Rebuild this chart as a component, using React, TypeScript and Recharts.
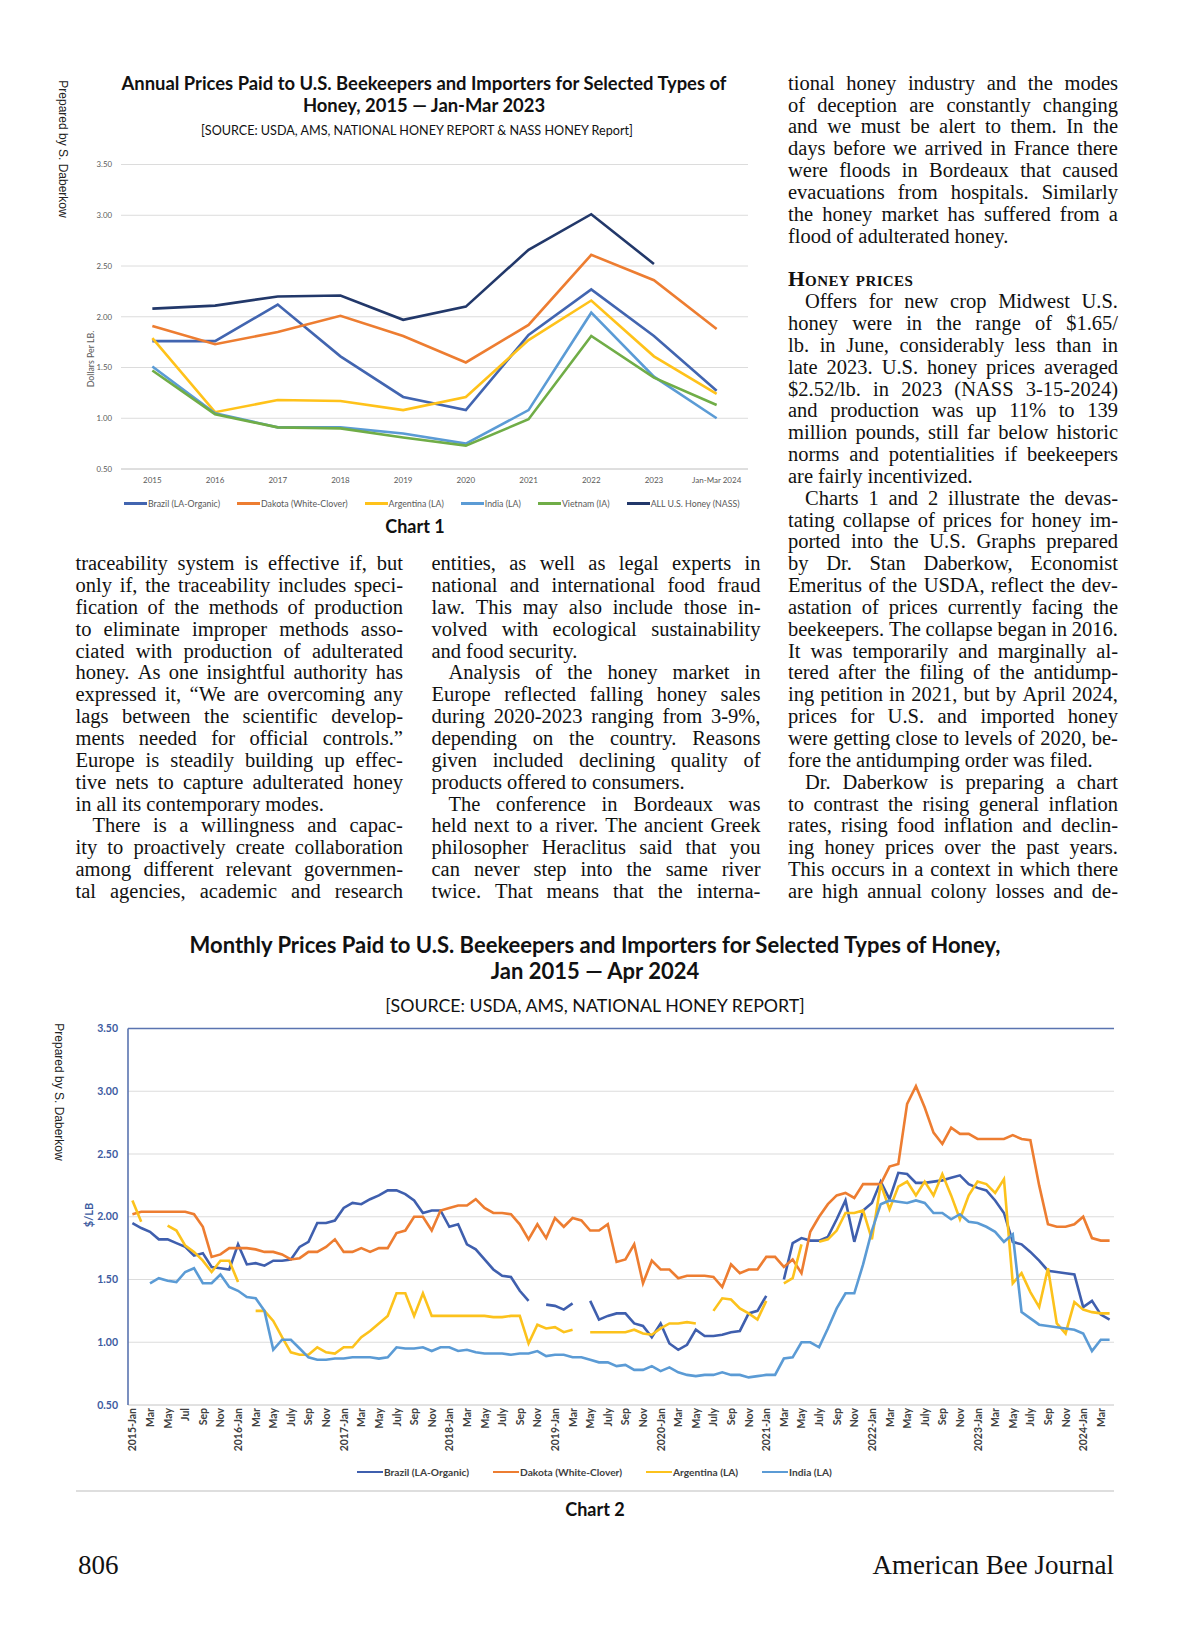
import React from 'react';
import { LineChart, Line, XAxis, YAxis, CartesianGrid, ReferenceLine } from 'recharts';

// ---------- Chart 1 (annual) ----------
const annualYears = ['2015', '2016', '2017', '2018', '2019', '2020', '2021', '2022', '2023', 'Jan-Mar 2024'];
const annualBrazil = [1.76, 1.76, 2.12, 1.61, 1.21, 1.08, 1.82, 2.27, 1.81, 1.27];
const annualDakota = [1.91, 1.73, 1.85, 2.01, 1.81, 1.55, 1.92, 2.61, 2.36, 1.88];
const annualArgentina = [1.79, 1.06, 1.18, 1.17, 1.08, 1.21, 1.77, 2.16, 1.61, 1.24];
const annualIndia = [1.51, 1.05, 0.91, 0.91, 0.85, 0.75, 1.08, 2.04, 1.41, 1.0];
const annualVietnam = [1.47, 1.04, 0.91, 0.9, 0.81, 0.73, 0.99, 1.81, 1.4, 1.13];
const annualAllUS = [2.08, 2.11, 2.2, 2.21, 1.97, 2.1, 2.66, 3.01, 2.52, null];
const annualTicks = [0.5, 1, 1.5, 2, 2.5, 3, 3.5];

// ---------- Chart 2 (monthly, Jan 2015 - Apr 2024) ----------
const monthYears = ['2015', '2016', '2017', '2018', '2019', '2020', '2021', '2022', '2023', '2024'];
const monthNames = ['Jan', 'Feb', 'Mar', 'Apr', 'May', 'Jun', 'Jul', 'Aug', 'Sep', 'Oct', 'Nov', 'Dec'];
const tickNames2015 = ['Jan', 'Mar', 'May', 'Jul', 'Sep', 'Nov'];
const tickNamesLater = ['Jan', 'Mar', 'May', 'July', 'Sep', 'Nov'];
const monthCount = 112;

const brazilM = [
  1.95, 1.91, 1.88, 1.82, 1.82, 1.79, 1.76, 1.69, 1.71, 1.6, 1.59, 1.58,
  1.78, 1.62, 1.63, 1.61, 1.65, 1.65, 1.66, 1.76, 1.8, 1.95, 1.95, 1.97,
  2.07, 2.11, 2.1, 2.14, 2.17, 2.21, 2.21, 2.18, 2.13, 2.03, 2.05, 2.05,
  1.92, 1.94, 1.78, 1.74, 1.66, 1.58, 1.53, 1.52, 1.41, 1.33, null, 1.3,
  1.29, 1.26, 1.31, null, 1.33, 1.18, 1.21, 1.23, 1.23, 1.15, 1.13, 1.04,
  1.15, 0.99, 0.94, 0.98, 1.1, 1.05, 1.05, 1.06, 1.08, 1.09, 1.23, 1.25,
  1.37, null, 1.5, 1.79, 1.83, 1.81, 1.81, 1.84, 1.98, 2.13, 1.8, 2.05,
  2.11, 2.28, 2.14, 2.35, 2.34, 2.27, 2.27, 2.28, 2.29, 2.31, 2.33, 2.26,
  2.23, 2.21, 2.13, 2.03, 1.8, 1.78, 1.72, 1.65, 1.57, 1.56, 1.55, 1.54,
  1.28, 1.33, 1.22, 1.18,
];
const dakotaM = [
  2.02, 2.04, 2.04, 2.04, 2.04, 2.04, 2.04, 2.02, 1.92, 1.68, 1.7, 1.75,
  1.75, 1.75, 1.74, 1.72, 1.72, 1.7, 1.66, 1.67, 1.72, 1.72, 1.76, 1.82,
  1.72, 1.72, 1.75, 1.72, 1.75, 1.75, 1.87, 1.89, 2.0, 2.0, 1.89, 2.05,
  2.07, 2.09, 2.09, 2.14, 2.07, 2.03, 2.03, 2.02, 1.94, 1.82, 1.94, 1.83,
  1.99, 1.92, 1.99, 1.97, 1.89, 1.89, 1.94, 1.64, 1.66, 1.78, 1.47, 1.65,
  1.58, 1.58, 1.51, 1.53, 1.53, 1.53, 1.52, 1.44, 1.62, 1.55, 1.58, 1.58,
  1.68, 1.68, 1.6, 1.66, 1.55, 1.88, 2.0, 2.1, 2.17, 2.19, 2.15, 2.26,
  2.26, 2.26, 2.4, 2.42, 2.9, 3.04, 2.87, 2.67, 2.58, 2.71, 2.66, 2.66,
  2.62, 2.62, 2.62, 2.62, 2.65, 2.62, 2.61, 2.25, 1.94, 1.92, 1.92, 1.94,
  2.0, 1.83, 1.81, 1.81,
];
const argentinaM = [
  2.13, 1.96, null, null, 1.93, 1.89, 1.77, 1.72, 1.65, 1.56, 1.65, 1.65,
  1.48, null, 1.25, 1.25, 1.17, 1.04, 0.92, 0.9, 0.9, 0.96, 0.92, 0.91,
  0.96, 0.96, 1.04, 1.09, 1.15, 1.21, 1.39, 1.39, 1.21, 1.39, 1.21, 1.21,
  1.21, 1.21, 1.21, 1.21, 1.21, 1.2, 1.2, 1.21, 1.21, 0.99, 1.14, 1.11,
  1.12, 1.08, 1.1, null, 1.08, 1.08, 1.08, 1.08, 1.08, 1.1, 1.07, 1.06,
  1.11, 1.15, 1.15, 1.16, 1.15, null, 1.25, 1.35, 1.34, 1.27, 1.23, 1.18,
  1.33, null, 1.47, 1.51, 1.78, null, 1.8, 1.82, 1.89, 2.03, 2.03, 2.05,
  1.82, 2.26, 2.06, 2.24, 2.28, 2.17, 2.28, 2.17, 2.34, 2.17, 1.98, 2.17,
  2.28, 2.26, 2.19, 2.3, 1.47, 1.55, 1.4, 1.28, 1.59, 1.15, 1.07, 1.32,
  1.26, 1.24, 1.23, 1.23,
];
const indiaM = [
  null, null, 1.47, 1.51, 1.49, 1.48, 1.56, 1.59, 1.47, 1.47, 1.54, 1.44,
  1.41, 1.36, 1.35, 1.25, 0.94, 1.02, 1.02, 0.95, 0.88, 0.86, 0.86, 0.87,
  0.87, 0.88, 0.88, 0.88, 0.87, 0.88, 0.96, 0.95, 0.95, 0.96, 0.93, 0.96,
  0.96, 0.93, 0.94, 0.92, 0.91, 0.91, 0.91, 0.9, 0.91, 0.91, 0.93, 0.89,
  0.9, 0.9, 0.88, 0.88, 0.86, 0.84, 0.84, 0.81, 0.82, 0.78, 0.78, 0.81,
  0.77, 0.8, 0.76, 0.74, 0.73, 0.74, 0.74, 0.76, 0.74, 0.74, 0.72, 0.73,
  0.74, 0.74, 0.87, 0.88, 1.0, 1.0, 0.96, 1.11, 1.27, 1.39, 1.39, 1.62,
  1.89, 2.1, 2.13, 2.12, 2.11, 2.13, 2.11, 2.03, 2.03, 1.98, 2.02, 1.96,
  1.95, 1.92, 1.88, 1.8, 1.86, 1.24, 1.19, 1.14, 1.13, 1.12, 1.11, 1.1,
  1.07, 0.93, 1.02, 1.02,
];
const monthlyTicks = [0.5, 1, 1.5, 2, 2.5, 3, 3.5];

// ---------- series styling ----------
const annualSeries = [
  { key: 'brazil', name: 'Brazil (LA-Organic)', color: '#4265b0', values: annualBrazil },
  { key: 'dakota', name: 'Dakota (White-Clover)', color: '#ed7d31', values: annualDakota },
  { key: 'argentina', name: 'Argentina (LA)', color: '#ffc21a', values: annualArgentina },
  { key: 'india', name: 'India (LA)', color: '#5b9bd5', values: annualIndia },
  { key: 'vietnam', name: 'Vietnam (IA)', color: '#70ad47', values: annualVietnam },
  { key: 'allus', name: 'ALL U.S. Honey (NASS)', color: '#22386a', values: annualAllUS },
];
const monthlySeries = [
  { key: 'brazil', name: 'Brazil (LA-Organic)', color: '#3f5fae', values: brazilM },
  { key: 'dakota', name: 'Dakota (White-Clover)', color: '#ed7d31', values: dakotaM },
  { key: 'argentina', name: 'Argentina (LA)', color: '#fcc21c', values: argentinaM },
  { key: 'india', name: 'India (LA)', color: '#5b9bd5', values: indiaM },
];

const annualData = annualYears.map((y, i) => {
  const row: any = { year: y };
  annualSeries.forEach((s) => (row[s.key] = s.values[i]));
  return row;
});

const monthKeys: string[] = [];
monthYears.forEach((y) => monthNames.forEach((m) => monthKeys.push(`${y}-${m}`)));
const monthlyData = monthKeys.slice(0, monthCount).map((k, i) => {
  const row: any = { m: k };
  monthlySeries.forEach((s) => (row[s.key] = s.values[i]));
  return row;
});

function monthTickLabel(key: string): string {
  const [y, m] = key.split('-');
  const idx = monthNames.indexOf(m);
  const names = y === '2015' ? tickNames2015 : tickNamesLater;
  const label = names[Math.floor(idx / 2)];
  return label === 'Jan' ? `${y}-Jan` : label;
}

// ---------- article text ----------
const colLeft = [
  'traceability system is effective if, but',
  'only if, the traceability includes speci-',
  'fication of the methods of production',
  'to eliminate improper methods asso-',
  'ciated with production of adulterated',
  'honey. As one insightful authority has',
  'expressed it, \u201CWe are overcoming any',
  'lags between the scientific develop-',
  'ments needed for official controls.\u201D',
  'Europe is steadily building up effec-',
  'tive nets to capture adulterated honey',
  'in all its contemporary modes.\u00B6',
  '\tThere is a willingness and capac-',
  'ity to proactively create collaboration',
  'among different relevant governmen-',
  'tal agencies, academic and research',
];
const colMid = [
  'entities, as well as legal experts in',
  'national and international food fraud',
  'law. This may also include those in-',
  'volved with ecological sustainability',
  'and food security.\u00B6',
  '\tAnalysis of the honey market in',
  'Europe reflected falling honey sales',
  'during 2020-2023 ranging from 3-9%,',
  'depending on the country. Reasons',
  'given included declining quality of',
  'products offered to consumers.\u00B6',
  '\tThe conference in Bordeaux was',
  'held next to a river. The ancient Greek',
  'philosopher Heraclitus said that you',
  'can never step into the same river',
  'twice. That means that the interna-',
];
const colRight = [
  'tional honey industry and the modes',
  'of deception are constantly changing',
  'and we must be alert to them. In the',
  'days before we arrived in France there',
  'were floods in Bordeaux that caused',
  'evacuations from hospitals. Similarly',
  'the honey market has suffered from a',
  'flood of adulterated honey.\u00B6',
  '',
  '#Honey prices',
  '\tOffers for new crop Midwest U.S.',
  'honey were in the range of $1.65/',
  'lb. in June, considerably less than in',
  'late 2023. U.S. honey prices averaged',
  '$2.52/lb. in 2023 (NASS 3-15-2024)',
  'and production was up 11% to 139',
  'million pounds, still far below historic',
  'norms and potentialities if beekeepers',
  'are fairly incentivized.\u00B6',
  '\tCharts 1 and 2 illustrate the devas-',
  'tating collapse of prices for honey im-',
  'ported into the U.S. Graphs prepared',
  'by Dr. Stan Daberkow, Economist',
  'Emeritus of the USDA, reflect the dev-',
  'astation of prices currently facing the',
  'beekeepers. The collapse began in 2016.',
  'It was temporarily and marginally al-',
  'tered after the filing of the antidump-',
  'ing petition in 2021, but by April 2024,',
  'prices for U.S. and imported honey',
  'were getting close to levels of 2020, be-',
  'fore the antidumping order was filed.\u00B6',
  '\tDr. Daberkow is preparing a chart',
  'to contrast the rising general inflation',
  'rates, rising food inflation and declin-',
  'ing honey prices over the past years.',
  'This occurs in a context in which there',
  'are high annual colony losses and de-',
];

const SERIF = '"Liberation Serif", "Times New Roman", serif';
const SANS = 'Lato, "Noto Sans", sans-serif';
const LINE0 = 82.8;
const LINE_H = 21.84;
const BODY_FS = 20.5;

function TextColumn({ lines, left, width, startSlot }: { lines: string[]; left: number; width: number; startSlot: number }) {
  return (
    <>
      {lines.map((raw, i) => {
        if (!raw) return null;
        const top = LINE0 + (startSlot + i) * LINE_H - 11;
        if (raw.startsWith('#')) {
          return (
            <div key={i} style={{ position: 'absolute', left, top, height: 22, lineHeight: '22px', fontFamily: SERIF, fontSize: 21.5, fontWeight: 700, fontVariant: 'small-caps', letterSpacing: 0.4, color: '#111', whiteSpace: 'nowrap' }}>
              {raw.slice(1)}
            </div>
          );
        }
        const indent = raw.startsWith('\t');
        const last = raw.endsWith('\u00B6');
        const text = raw.replace('\t', '').replace('\u00B6', '');
        const words = text.split(' ');
        return (
          <div
            key={i}
            style={{
              position: 'absolute',
              left: left + (indent ? 17 : 0),
              top,
              width: width - (indent ? 17 : 0),
              height: 22,
              lineHeight: '22px',
              fontFamily: SERIF,
              fontSize: BODY_FS,
              color: '#111',
              whiteSpace: 'nowrap',
              display: 'flex',
              justifyContent: last ? 'flex-start' : 'space-between',
              gap: last ? 5 : 0,
            }}
          >
            {words.map((w, j) => (
              <span key={j}>{w}</span>
            ))}
          </div>
        );
      })}
    </>
  );
}

function Rotated({ text, cx, cy, deg, style }: { text: string; cx: number; cy: number; deg: number; style: React.CSSProperties }) {
  return (
    <div style={{ position: 'absolute', left: cx, top: cy, transform: `translate(-50%, -50%) rotate(${deg}deg)`, whiteSpace: 'nowrap', ...style }}>
      {text}
    </div>
  );
}

function LegendRow({ series, left, top, gap, lineW, fontSize, bold, color }: any) {
  return (
    <div style={{ position: 'absolute', left, top, display: 'flex', alignItems: 'center', gap, fontFamily: SANS, fontSize, fontWeight: bold ? 700 : 400, color, whiteSpace: 'nowrap' }}>
      {series.map((s: any) => (
        <div key={s.key} style={{ display: 'flex', alignItems: 'center' }}>
          <div style={{ width: lineW, height: 2.5, background: s.color, marginRight: 1 }} />
          <span>{s.name}</span>
        </div>
      ))}
    </div>
  );
}

const MonthTick = (props: any) => {
  const { x, y, payload } = props;
  return (
    <text
      x={x}
      y={y}
      transform={`rotate(-90 ${x} ${y})`}
      textAnchor="end"
      dominantBaseline="central"
      fontSize={10.5}
      fontWeight={700}
      fill="#404040"
      fontFamily={SANS}
    >
      {monthTickLabel(payload.value)}
    </text>
  );
};

export default function App() {
  const frameBlue = '#5a74b0';
  return (
    <div style={{ position: 'absolute', left: 0, top: 0, width: 1200, height: 1631, background: '#ffffff', overflow: 'hidden' }}>
      {/* ---------- Chart 1 ---------- */}
      <Rotated text="Prepared by S. Daberkow" cx={62.5} cy={149} deg={90} style={{ fontFamily: '"Liberation Sans", Arial, sans-serif', fontSize: 12, color: '#222' }} />
      <div style={{ position: 'absolute', left: 74, width: 700, top: 72, textAlign: 'center', fontFamily: SANS, fontWeight: 700, fontSize: 18.4, lineHeight: '22px', color: '#111' }}>
        Annual Prices Paid to U.S. Beekeepers and Importers for Selected Types of
        <br />
        Honey, 2015 — Jan-Mar 2023
      </div>
      <div style={{ position: 'absolute', left: 67, width: 700, top: 123, textAlign: 'center', fontFamily: SANS, fontSize: 12.6, lineHeight: '16px', color: '#111' }}>
        [SOURCE: USDA, AMS, NATIONAL HONEY REPORT &amp; NASS HONEY Report]
      </div>
      <div style={{ position: 'absolute', left: 0, top: 150 }}>
        <LineChart width={760} height={340} data={annualData} margin={{ top: 14.5, right: 12, left: 81, bottom: 1 }}>
          <CartesianGrid vertical={false} stroke="#dcdcdc" strokeWidth={1} />
          <XAxis dataKey="year" scale="band" height={20} tickLine={false} axisLine={{ stroke: '#d0d0d0' }} tick={{ fontSize: 8, fill: '#595959', fontFamily: SANS }} tickMargin={2} interval={0} />
          <YAxis width={40} domain={[0.5, 3.5]} ticks={annualTicks} tickFormatter={(v: number) => v.toFixed(2)} axisLine={false} tickLine={false} tickMargin={3} tick={{ fontSize: 7.8, fill: '#595959', fontFamily: SANS }} />
          {annualSeries.map((s) => (
            <Line key={s.key} dataKey={s.key} name={s.name} stroke={s.color} strokeWidth={2.6} dot={false} isAnimationActive={false} />
          ))}
        </LineChart>
      </div>
      <Rotated text="Dollars Per LB." cx={90} cy={359} deg={-90} style={{ fontFamily: SANS, fontSize: 8.8, color: '#595959' }} />
      <LegendRow series={annualSeries} left={124} top={498} gap={17} lineW={23} fontSize={8.8} bold={false} color="#595959" />
      <div style={{ position: 'absolute', left: 315, width: 200, top: 515, textAlign: 'center', fontFamily: SANS, fontWeight: 700, fontSize: 18, color: '#111' }}>Chart 1</div>

      {/* ---------- Article text ---------- */}
      <TextColumn lines={colLeft} left={75.5} width={327.5} startSlot={22} />
      <TextColumn lines={colMid} left={431.5} width={329} startSlot={22} />
      <TextColumn lines={colRight} left={788} width={330} startSlot={0} />

      {/* ---------- Chart 2 ---------- */}
      <div style={{ position: 'absolute', left: 145, width: 900, top: 932, textAlign: 'center', fontFamily: SANS, fontWeight: 700, fontSize: 22, lineHeight: '26px', color: '#111' }}>
        Monthly Prices Paid to U.S. Beekeepers and Importers for Selected Types of Honey,
        <br />
        Jan 2015 — Apr 2024
      </div>
      <div style={{ position: 'absolute', left: 145, width: 900, top: 993, textAlign: 'center', fontFamily: SANS, fontSize: 17.8, lineHeight: '24px', color: '#111' }}>
        [SOURCE: USDA, AMS, NATIONAL HONEY REPORT]
      </div>
      <Rotated text="Prepared by S. Daberkow" cx={59} cy={1092} deg={90} style={{ fontFamily: '"Liberation Sans", Arial, sans-serif', fontSize: 12, color: '#222' }} />
      <div style={{ position: 'absolute', left: 0, top: 1010 }}>
        <LineChart width={1130} height={460} data={monthlyData} margin={{ top: 18.5, right: 16, left: 88, bottom: 13 }}>
          <CartesianGrid vertical={false} stroke="#dcdcdc" strokeWidth={1.2} />
          <XAxis dataKey="m" scale="band" height={52} interval={1} tickLine={false} tickSize={2} tickMargin={1} axisLine={{ stroke: '#d6d6d6' }} tick={<MonthTick />} />
          <YAxis width={40} domain={[0.5, 3.5]} ticks={monthlyTicks} tickFormatter={(v: number) => v.toFixed(2)} axisLine={{ stroke: frameBlue, strokeWidth: 1.6 }} tickLine={false} tickSize={6} tickMargin={4} tick={{ fontSize: 10.5, fontWeight: 700, fill: '#3d5b9f', fontFamily: SANS }} />
          <YAxis yAxisId="frame" orientation="right" width={0} domain={[0.5, 3.5]} tick={false} tickLine={false} axisLine={{ stroke: frameBlue, strokeWidth: 1.6 }} />
          <ReferenceLine y={3.5} stroke={frameBlue} strokeWidth={1.6} />
          {monthlySeries.map((s) => (
            <Line key={s.key} dataKey={s.key} name={s.name} stroke={s.color} strokeWidth={2.6} dot={false} isAnimationActive={false} />
          ))}
        </LineChart>
      </div>
      <Rotated text="$/LB" cx={88} cy={1215} deg={-90} style={{ fontFamily: SANS, fontSize: 11, fontWeight: 700, color: '#3d5b9f' }} />
      <LegendRow series={monthlySeries} left={357} top={1466} gap={24} lineW={26} fontSize={10.2} bold={true} color="#404040" />
      <div style={{ position: 'absolute', left: 75.5, width: 1038, top: 1490, height: 1.5, background: '#dedede' }} />
      <div style={{ position: 'absolute', left: 495, width: 200, top: 1498, textAlign: 'center', fontFamily: SANS, fontWeight: 700, fontSize: 18, color: '#111' }}>Chart 2</div>

      {/* ---------- Footer ---------- */}
      <div style={{ position: 'absolute', left: 78, top: 1550, fontFamily: SERIF, fontSize: 27, color: '#111' }}>806</div>
      <div style={{ position: 'absolute', right: 1200 - 1114, top: 1550, fontFamily: SERIF, fontSize: 27, color: '#111' }}>American Bee Journal</div>
    </div>
  );
}
